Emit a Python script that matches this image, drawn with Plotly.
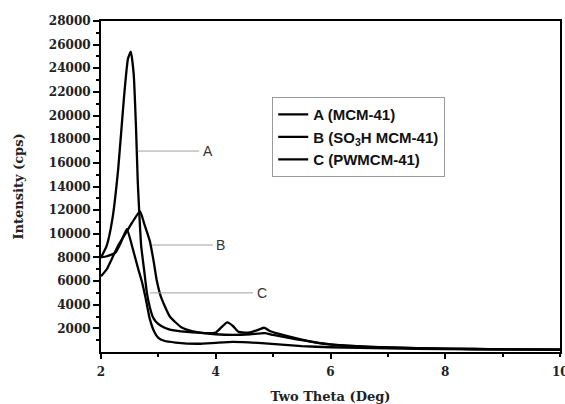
import plotly.graph_objects as go

# ---- data ----
a_x = [2.0, 2.1, 2.2, 2.3, 2.4, 2.47, 2.52, 2.57, 2.61, 2.64, 2.67, 2.7, 2.75, 2.8, 2.85, 2.9, 2.95, 3.05,
       3.2, 3.5, 3.8, 4.0, 4.1, 4.2, 4.3, 4.4, 4.6, 4.75, 4.85, 4.95, 5.2, 5.5, 5.8, 6.2, 7.0, 8.0, 9.0, 10.0]
a_y = [8000, 9000, 11300, 15500, 21500, 24800, 25400, 23500, 19000, 14500, 11500, 9000, 7000, 5000, 3800, 3000, 2600, 2200,
       1900, 1700, 1600, 1650, 2100, 2500, 2200, 1700, 1650, 1900, 2050, 1750, 1400, 1050, 750, 550, 380, 280, 230, 200]

b_x = [2.0, 2.1, 2.2, 2.3, 2.45, 2.55, 2.68, 2.75, 2.85, 2.92, 2.97, 3.05, 3.2, 3.4, 3.6, 3.8, 4.0, 4.3,
       4.6, 4.85, 5.0, 5.5, 6.0, 7.0, 8.0, 9.0, 10.0]
b_y = [6400, 7000, 8000, 9000, 10200, 11000, 11900, 10900, 9400, 7600, 6100, 4600, 3000, 2100, 1750, 1600, 1500, 1450,
       1500, 1600, 1450, 1000, 650, 380, 280, 230, 200]

c_x = [2.0, 2.1, 2.25, 2.35, 2.45, 2.55, 2.65, 2.71, 2.78, 2.85, 2.93, 3.0, 3.1, 3.3, 3.7, 4.0, 4.3, 4.8,
       5.5, 6.0, 7.0, 8.0, 9.0, 10.0]
c_y = [8000, 8100, 8400, 9300, 10400, 8800, 7000, 6000, 4500, 2800, 1700, 1200, 950, 800, 700, 780, 850, 750,
       500, 400, 300, 250, 220, 200]

series_names = ["A (MCM-41)", "B (SO<sub>3</sub>H MCM-41)", "C (PWMCM-41)"]

y_ticks = list(range(2000, 28001, 2000))
x_ticks = [2, 4, 6, 8]
x_last_tick = 10

# label callouts: (label, line start x, line end x, y, text x)
callouts = [("A", 2.64, 3.71, 17000, 3.87),
            ("B", 2.89, 3.95, 9050, 4.09),
            ("C", 2.85, 4.65, 5000, 4.80)]

fig = go.Figure()
for xs, ys, nm in [(a_x, a_y, series_names[0]), (b_x, b_y, series_names[1]), (c_x, c_y, series_names[2])]:
    fig.add_trace(go.Scatter(x=xs, y=ys, mode="lines", name=nm,
                             line=dict(color="black", width=2.3, shape="spline", smoothing=0.5)))

for lab, x0, x1, yy, tx in callouts:
    fig.add_shape(type="line", x0=x0, x1=x1, y0=yy, y1=yy, xref="x", yref="y",
                  line=dict(color="#a0a0a0", width=1))
    fig.add_annotation(x=tx, y=yy, text=lab, showarrow=False, xref="x", yref="y",
                       font=dict(family="Liberation Sans, Arial", size=14, color="#333"))

serif = "DejaVu Serif"
tickfont = dict(family=serif, size=12, color="#222", weight="bold")

# last x tick label, partly cut by the right edge as in the reference
fig.add_annotation(x=x_last_tick, y=0, xref="x", yref="paper", text=str(x_last_tick),
                   showarrow=False, yanchor="middle", yshift=-20, font=tickfont)

fig.update_layout(
    width=565, height=404,
    margin=dict(l=101, r=5, t=21, b=52),
    paper_bgcolor="white", plot_bgcolor="white",
    showlegend=True,
    legend=dict(x=0.373, y=0.77, xanchor="left", yanchor="top",
                bordercolor="#999", borderwidth=1, bgcolor="white",
                font=dict(family="Liberation Sans, Arial", size=15, color="#111", weight="bold"),
                tracegroupgap=0, itemwidth=30),
    xaxis=dict(range=[2, 10], tickvals=x_ticks, ticktext=[str(v) for v in x_ticks],
               automargin=False,
               showline=True, linecolor="black", linewidth=2, mirror=True,
               ticks="outside", ticklen=5, tickwidth=2, tickcolor="black", ticklabelstandoff=3,
               minor=dict(tickvals=[3, 5, 7, 9, 10], ticks="outside", ticklen=3, tickwidth=2, tickcolor="black"),
               showgrid=False, zeroline=False,
               tickfont=tickfont,
               title=dict(text="Two Theta (Deg)", standoff=19,
                          font=dict(family=serif, size=13, color="#222", weight="bold"))),
    yaxis=dict(range=[0, 28000], tickvals=y_ticks, ticktext=[str(v) for v in y_ticks],
               automargin=False,
               showline=True, linecolor="black", linewidth=2, mirror=True,
               ticks="outside", ticklen=6, tickwidth=2, tickcolor="black",
               minor=dict(tickvals=list(range(1000, 28000, 2000)), ticks="outside", ticklen=3, tickwidth=2, tickcolor="black"),
               showgrid=False, zeroline=False,
               tickfont=tickfont,
               title=dict(text="Intensity (cps)", standoff=22,
                          font=dict(family=serif, size=13, color="#222", weight="bold"))),
)

fig.write_html("out.html")
